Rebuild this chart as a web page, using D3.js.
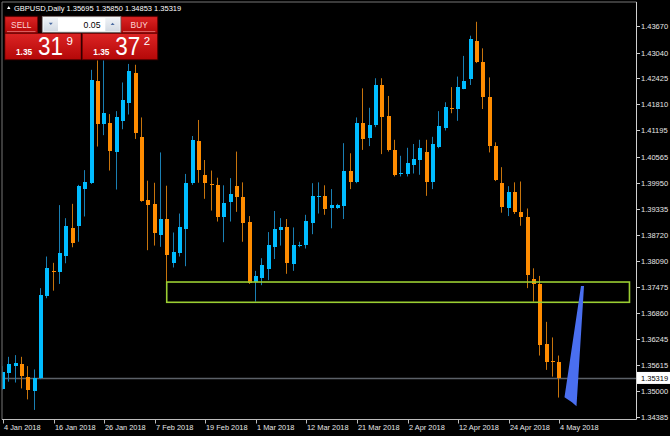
<!DOCTYPE html>
<html><head><meta charset="utf-8">
<script src="https://cdn.jsdelivr.net/npm/d3@7"></script>
<style>html,body{margin:0;padding:0;background:#000;overflow:hidden}</style>
</head><body>
<svg id="c" width="670" height="436"></svg>
<script>
// ---------- DATA ----------
const symbolTitle = "GBPUSD,Daily";
const open  = [1.3507,1.3544,1.3559,1.3565,1.3535,1.3499,1.3531,1.3725,1.3786,1.3784,1.3821,1.3887,1.3891,1.3979,1.3994,1.4237,1.4136,1.4138,1.4066,1.4140,1.4185,1.4255,1.4103,1.3954,1.3944,1.3871,1.3908,1.3804,1.3829,1.3886,1.3994,1.4093,1.4013,1.3992,1.3990,1.3913,1.3950,1.3988,1.3962,1.3901,1.3758,1.3767,1.3790,1.3843,1.3881,1.3889,1.3803,1.3845,1.3846,1.3900,1.3961,1.3964,1.3934,1.3934,1.3940,1.4024,1.3996,1.4136,1.4101,1.4132,1.4227,1.4154,1.4073,1.4016,1.4014,1.4037,1.4049,1.4069,1.3996,1.4080,1.4125,1.4172,1.4171,1.4219,1.4241,1.4331,1.4282,1.4198,1.4082,1.3994,1.3934,1.3973,1.3925,1.3913,1.3767,1.3755,1.3612,1.3572,1.35695];
const high  = [1.3560,1.3582,1.3586,1.3582,1.3560,1.3552,1.3745,1.3820,1.3805,1.3942,1.3911,1.3945,1.3990,1.4025,1.4263,1.4345,1.4290,1.4158,1.4165,1.4233,1.4277,1.4275,1.4150,1.4000,1.3995,1.4067,1.3988,1.3877,1.3922,1.4016,1.4106,1.4144,1.4049,1.4024,1.4007,1.3989,1.4006,1.4069,1.3996,1.3916,1.3786,1.3816,1.3878,1.3928,1.3911,1.3909,1.3889,1.3855,1.3919,1.3994,1.3996,1.3989,1.3980,1.3945,1.4089,1.4065,1.4150,1.4219,1.4173,1.4243,1.4243,1.4201,1.4097,1.4059,1.4078,1.4087,1.4097,1.4097,1.4104,1.4165,1.4186,1.4222,1.4247,1.4296,1.4344,1.4377,1.4314,1.4245,1.4091,1.4032,1.3987,1.3996,1.3998,1.3934,1.3792,1.3774,1.3665,1.3628,1.35850];
const low   = [1.3503,1.3523,1.3521,1.3507,1.3481,1.3456,1.3529,1.3721,1.3739,1.3755,1.3804,1.3842,1.3855,1.3915,1.3992,1.4081,1.4108,1.4024,1.3979,1.4122,1.4157,1.4099,1.3950,1.3835,1.3846,1.3843,1.3748,1.3794,1.3820,1.3797,1.3990,1.3995,1.3957,1.3929,1.3903,1.3854,1.3903,1.3926,1.3855,1.3755,1.3713,1.3752,1.3764,1.3814,1.3846,1.3779,1.3786,1.3842,1.3839,1.3873,1.3922,1.3919,1.3887,1.3933,1.3909,1.3980,1.3994,1.4073,1.4082,1.4127,1.4063,1.4069,1.4010,1.4010,1.4010,1.4017,1.4014,1.3964,1.3980,1.4077,1.4119,1.4160,1.4142,1.4217,1.4227,1.4279,1.4170,1.4067,1.3999,1.3924,1.3916,1.3921,1.3893,1.3745,1.3713,1.3585,1.3551,1.3535,1.34853];
const close = [1.3547,1.3565,1.3567,1.3536,1.3503,1.3531,1.3729,1.3792,1.3784,1.3828,1.3893,1.3851,1.3987,1.3996,1.4239,1.4134,1.4161,1.4071,1.4150,1.4191,1.4260,1.4112,1.3952,1.3942,1.3875,1.3908,1.3822,1.3831,1.3891,1.3994,1.4097,1.4025,1.3993,1.3989,1.3913,1.3946,1.3968,1.3961,1.3901,1.3756,1.3773,1.3799,1.3847,1.3885,1.3889,1.3803,1.3847,1.3847,1.3904,1.3964,1.3964,1.3934,1.3942,1.3942,1.4024,1.3998,1.4136,1.4099,1.4132,1.4227,1.4152,1.4073,1.4014,1.4018,1.4041,1.4051,1.4077,1.3999,1.4086,1.4129,1.4174,1.4170,1.4223,1.4237,1.4335,1.4281,1.4199,1.4081,1.4002,1.3936,1.3973,1.3926,1.3913,1.3775,1.3754,1.3611,1.3569,1.3569,1.35319];
const priceTicks = [1.43670,1.43040,1.42425,1.41810,1.41195,1.40565,1.39950,1.39335,1.38720,1.38090,1.37475,1.36860,1.36245,1.35615,1.35000,1.34385];
const dateTickIndex  = [0,8,16,24,32,40,48,56,64,72,80,88];
const dateTickLabels = ["4 Jan 2018","16 Jan 2018","26 Jan 2018","7 Feb 2018","19 Feb 2018","1 Mar 2018","12 Mar 2018","21 Mar 2018","2 Apr 2018","12 Apr 2018","24 Apr 2018","4 May 2018"];
const bidPrice = 1.35319;
const zoneTop = 1.37595, zoneBottom = 1.37114, zoneStart = 25.9, zoneEnd = 99.1;
const arrowPoints = [[91.43,1.3750],[91.91,1.3750],[90.72,1.3465],[90.0,1.3474],[88.82,1.3486]];
const quote = {prefix:"1.35", sellBig:"31", sellSup:"9", buyBig:"37", buySup:"2", lot:"0.05"};

// ---------- SCALES ----------
const svg = d3.select("#c");
const L = 2, R = 636.5, T = 2, B = 419.5;
const x = d3.scaleLinear().domain([0, 88]).range([3, 559.3]);
const y = d3.scaleLinear().domain([1.34385, 1.43670]).range([417.3, 26]);
const font = "'Liberation Sans', Arial, sans-serif";

svg.append("rect").attr("width",670).attr("height",436).attr("fill","#000");
svg.append("defs").append("clipPath").attr("id","plot")
  .append("rect").attr("x",L+0.5).attr("y",T+0.5).attr("width",R-L-1).attr("height",B-T-1);

const plot = svg.append("g").attr("clip-path","url(#plot)");

// bid line
plot.append("line").attr("x1",L).attr("x2",R).attr("y1",Math.round(y(bidPrice))+0.5).attr("y2",Math.round(y(bidPrice))+0.5)
  .attr("stroke","#5b6067").attr("stroke-width",1.3);

// candles
const idx = d3.range(open.length);
const up = i => close[i] >= open[i];
const cx = i => Math.round(x(i));
plot.selectAll("line.wick").data(idx).join("line").attr("class","wick")
  .attr("x1", i => cx(i)-0.5).attr("x2", i => cx(i)-0.5)
  .attr("y1", i => y(high[i])).attr("y2", i => y(low[i]))
  .attr("stroke", i => up(i) ? "#1a7fb3" : "#c8740c").attr("stroke-width",1);
plot.selectAll("rect.body").data(idx).join("rect").attr("class","body")
  .attr("x", i => cx(i)-2).attr("width",4)
  .attr("y", i => Math.round(y(Math.max(open[i],close[i]))))
  .attr("height", i => Math.max(1, Math.round(Math.abs(y(open[i])-y(close[i])))))
  .attr("fill", i => up(i) ? "#00bcff" : "#ff8c00");

// zone rectangle
plot.append("rect")
  .attr("x", x(zoneStart)).attr("y", y(zoneTop))
  .attr("width", x(zoneEnd)-x(zoneStart)).attr("height", y(zoneBottom)-y(zoneTop))
  .attr("fill","none").attr("stroke","#9acd32").attr("stroke-width",1.6);

// arrow
plot.append("polygon")
  .attr("points", arrowPoints.map(p => [x(p[0]), y(p[1])].join(",")).join(" "))
  .attr("fill","#4a6ff0");

// frame
svg.append("line").attr("x1",L).attr("x2",L).attr("y1",T).attr("y2",B).attr("stroke","#777");
svg.append("line").attr("x1",L).attr("x2",R).attr("y1",T).attr("y2",T).attr("stroke","#777");
svg.append("line").attr("x1",L).attr("x2",R).attr("y1",B).attr("y2",B).attr("stroke","#bdbdbd");
svg.append("line").attr("x1",R).attr("x2",R).attr("y1",T).attr("y2",B).attr("stroke","#d0d0d0");

// price axis
const pa = svg.append("g");
priceTicks.forEach(p => {
  const yy = Math.round(y(p)) + 0.5;
  pa.append("line").attr("x1",R).attr("x2",R+3.5).attr("y1",yy).attr("y2",yy).attr("stroke","#d0d0d0");
  pa.append("text").attr("x",R+4.5).attr("y",yy+2.8).text(p.toFixed(5))
    .attr("fill","#e6e6e6").attr("font-family",font).attr("font-size","7.5px");
});
// bid label
const by = y(bidPrice);
pa.append("rect").attr("x",R+0.5).attr("y",by-6).attr("width",670-R).attr("height",12).attr("fill","#fff");
pa.append("text").attr("x",R+4.5).attr("y",by+2.8).text(bidPrice.toFixed(5))
  .attr("fill","#000").attr("font-family",font).attr("font-size","7.5px");

// date axis
const da = svg.append("g");
dateTickIndex.forEach((d,k) => {
  const xx = Math.round(x(d)) + 0.5;
  da.append("line").attr("x1",xx).attr("x2",xx).attr("y1",B).attr("y2",B+4).attr("stroke","#bdbdbd");
  da.append("text").attr("x",xx+0.5).attr("y",429.5).text(dateTickLabels[k])
    .attr("fill","#e6e6e6").attr("font-family",font).attr("font-size","7.4px");
});

// title
svg.append("path").attr("d","M7,9 L10.5,9 L8.75,6 Z").attr("fill","#fff");
svg.append("text").attr("x",14).attr("y",10.5).attr("fill","#fff").attr("font-family",font).attr("font-size","7.5px")
  .text(symbolTitle + "  " + [open[88],high[88],low[88],close[88]].map(v=>v.toFixed(5)).join(" "));

// one-click panel
const defs = svg.select("defs");
const g1 = defs.append("linearGradient").attr("id","red").attr("x1",0).attr("x2",0).attr("y1",0).attr("y2",1);
g1.append("stop").attr("offset","0%").attr("stop-color","#dc2424");
g1.append("stop").attr("offset","100%").attr("stop-color","#b40808");
const g2 = defs.append("linearGradient").attr("id","btn").attr("x1",0).attr("x2",0).attr("y1",0).attr("y2",1);
g2.append("stop").attr("offset","0%").attr("stop-color","#f0f3f7");
g2.append("stop").attr("offset","100%").attr("stop-color","#d3dae3");

const pn = svg.append("g");
pn.append("rect").attr("x",4).attr("y",15.5).attr("width",154.5).attr("height",45).attr("fill","#1a0000");
// sell / buy buttons
[[5,37.5,"SELL"],[121,157.3,"BUY"]].forEach(([a,b,t]) => {
  pn.append("rect").attr("x",a).attr("y",16.8).attr("width",b-a).attr("height",16).attr("fill","url(#red)").attr("stroke","#7a0000").attr("stroke-width",0.6);
  pn.append("line").attr("x1",a+2).attr("x2",b-2).attr("y1",31.6).attr("y2",31.6).attr("stroke","#e88080").attr("stroke-width",0.8);
  pn.append("text").attr("x",(a+b)/2).attr("y",27.6).attr("text-anchor","middle").text(t)
    .attr("fill","#ffd6d6").attr("font-family",font).attr("font-size","8.3px");
});
// lot box
pn.append("rect").attr("x",42.3).attr("y",16.7).attr("width",78.5).attr("height",15.5).attr("fill","#fff").attr("stroke","#8a8a8a").attr("stroke-width",0.8);
pn.append("rect").attr("x",43.5).attr("y",17.8).attr("width",14.5).attr("height",13.3).attr("fill","url(#btn)");
pn.append("rect").attr("x",105.3).attr("y",17.8).attr("width",14.5).attr("height",13.3).attr("fill","url(#btn)");
pn.append("path").attr("d","M48.8,22.8 L52.8,22.8 L50.8,25 Z").attr("fill","#4a6aa0");
pn.append("path").attr("d","M110.6,25 L114.6,25 L112.6,22.8 Z").attr("fill","#4a6aa0");
pn.append("text").attr("x",100.5).attr("y",28).attr("text-anchor","end").text(quote.lot)
  .attr("fill","#000").attr("font-family",font).attr("font-size","8.7px");
// price boxes
[[5,81,quote.sellBig,quote.sellSup],[82.3,157.3,quote.buyBig,quote.buySup]].forEach(([a,b,big,sup]) => {
  pn.append("rect").attr("x",a).attr("y",33.4).attr("width",b-a).attr("height",26).attr("fill","url(#red)").attr("stroke","#6a0000").attr("stroke-width",0.6);
  pn.append("text").attr("x",a+11).attr("y",55).text(quote.prefix)
    .attr("fill","#fff").attr("font-family",font).attr("font-size","8.3px").attr("font-weight","bold");
  pn.append("text").attr("x",a+33).attr("y",55.2).text(big)
    .attr("fill","#fff").attr("font-family",font).attr("font-size","25px")
    .attr("textLength",25).attr("lengthAdjust","spacingAndGlyphs");
  pn.append("text").attr("x",a+61.5).attr("y",45).text(sup)
    .attr("fill","#fff").attr("font-family",font).attr("font-size","11.5px");
});
</script>
</body></html>
